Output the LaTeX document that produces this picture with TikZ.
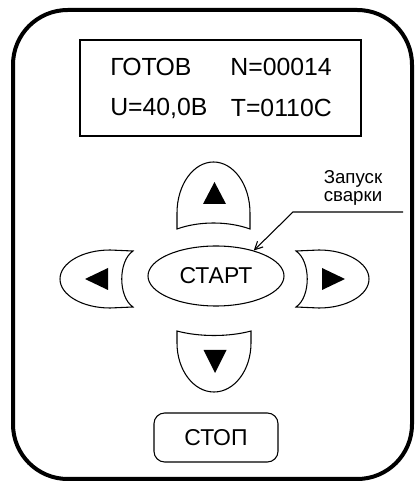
\documentclass[tikz,border=0pt]{standalone}
\usepackage{fontspec}
\setmainfont{Liberation Sans}
\usetikzlibrary{arrows.meta,shapes.geometric}

\begin{document}
\begin{tikzpicture}[x=0.75pt, y=0.75pt,
    knopka/.style={line width=0.8pt},
    znak/.style={fill=black},
    tablo/.style={inner sep=0pt, font=\fontsize{18.6}{20}\selectfont}]

    \useasboundingbox (0,0) rectangle (415,483);

    % корпус пульта
    \draw[line width=3pt, rounded corners=41pt] (13,4) rectangle (412,473);

    % индикатор
    \node[draw, line width=0.9pt, minimum width=210.75pt, minimum height=72pt]
        (display) at (220.5,395) {};
    \node[tablo, anchor=west] (ready) at (110,416) {ГОТОВ};
    \node[tablo, anchor=east] (count) at (332,416) {N=00014};
    \node[tablo, anchor=west] (volt) at (110,375) {U=40,0В};
    \node[tablo, anchor=east] (temp) at (332,375) {T=0110С};

    % кнопка вверх
    \draw[knopka] (177,254) -- (177,270)
        arc[start angle=180, end angle=0, x radius=36.5, y radius=51]
        -- (250,254) .. controls (228,262) and (199,262) .. cycle;
    \fill[znak] (214.5,301) -- (203,279) -- (226,279) -- cycle;

    % кнопка вниз
    \draw[knopka] (177,152) -- (177,140)
        arc[start angle=180, end angle=360, x radius=37, y radius=49]
        -- (251,152) .. controls (229,146) and (199,146) .. cycle;
    \fill[znak] (215,110) -- (203.5,133) -- (226.5,133) -- cycle;

    % кнопка влево
    \draw[knopka] (133,232) -- (110,233)
        arc[start angle=90, end angle=270, x radius=50, y radius=29]
        -- (133,176) .. controls (118,186) and (118,222) .. cycle;
    \fill[znak] (85,204) -- (108,215) -- (108,193) -- cycle;

    % кнопка вправо
    \draw[knopka] (296,232) -- (319,233)
        arc[start angle=90, end angle=-90, x radius=50, y radius=29]
        -- (296,176) .. controls (311,186) and (311,222) .. cycle;
    \fill[znak] (345,204) -- (322,215) -- (322,193) -- cycle;

    % пуск и стоп
    \node[knopka, draw, ellipse, inner sep=0pt, minimum width=102pt,
        minimum height=45pt, font=\fontsize{17.2}{20}\selectfont]
        (start) at (216,207) {СТАРТ};
    \node[knopka, draw, rounded corners=8pt, minimum width=93pt,
        minimum height=36.75pt, font=\fontsize{17.2}{20}\selectfont]
        (stop) at (216,45.5) {СТОП};

    % подпись со стрелкой
    \node[align=center, inner sep=0pt, font=\fontsize{14}{13.5}\selectfont]
        (note) at (353,295) {Запуск\\сварки};
    \coordinate (lead) at (403,271);
    \coordinate (bend) at (293,271);
    \draw[line width=0.8pt, -{Straight Barb[length=6pt, width=6pt]}]
        (lead) -- (bend) -- (start.34);

\end{tikzpicture}
\end{document}
